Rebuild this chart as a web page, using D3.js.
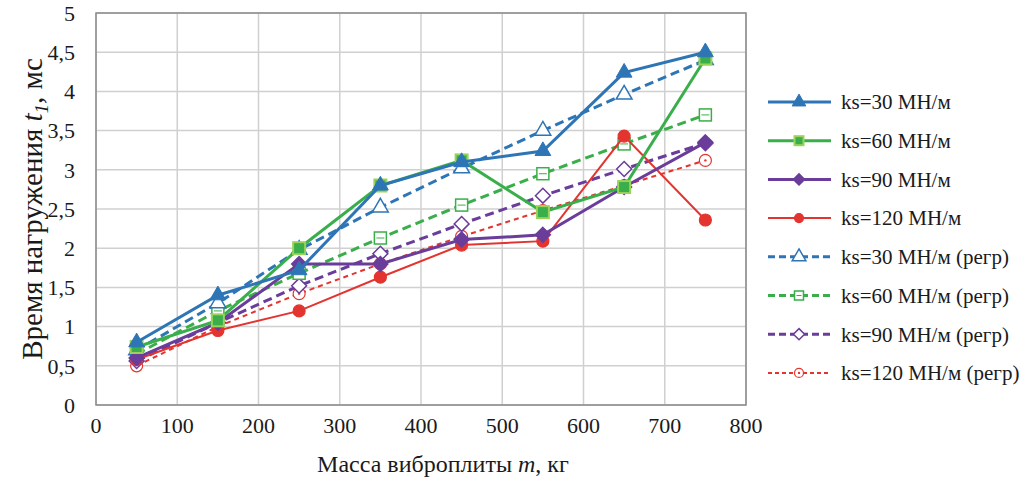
<!DOCTYPE html>
<meta charset="utf-8">
<html>
<head>
<title>Время нагружения</title>
<script src="https://d3js.org/d3.v7.min.js"></script>
<style>
  body { margin: 0; background: #fff; }
  svg text { font-family: "Liberation Serif", "DejaVu Serif", "Times New Roman", serif; fill: #1a1a1a; }
</style>
</head>
<body>
<div id="chart"></div>
<script>
// data
var masses = [50, 150, 250, 350, 450, 550, 650, 750];
var t30  = [0.80, 1.40, 1.72, 2.80, 3.10, 3.24, 4.24, 4.50];
var t60  = [0.74, 1.08, 2.00, 2.80, 3.12, 2.46, 2.78, 4.42];
var t90  = [0.60, 1.05, 1.80, 1.80, 2.11, 2.17, 2.78, 3.35];
var t120 = [0.58, 0.95, 1.20, 1.63, 2.04, 2.09, 3.43, 2.36];
var r30  = [0.70, 1.30, 1.98, 2.52, 3.02, 3.50, 3.96, 4.40];
var r60  = [0.65, 1.20, 1.68, 2.13, 2.55, 2.95, 3.33, 3.70];
var r90  = [0.56, 1.05, 1.52, 1.93, 2.31, 2.67, 3.01, 3.34];
var r120 = [0.50, 1.00, 1.42, 1.80, 2.15, 2.48, 2.80, 3.12];
var seriesNames = ["ks=30 МН/м", "ks=60 МН/м", "ks=90 МН/м", "ks=120 МН/м",
  "ks=30 МН/м (регр)", "ks=60 МН/м (регр)", "ks=90 МН/м (регр)", "ks=120 МН/м (регр)"];
var xTicks = [0, 100, 200, 300, 400, 500, 600, 700, 800];
var yTicks = [0, 0.5, 1, 1.5, 2, 2.5, 3, 3.5, 4, 4.5, 5];

var blue = "#2e75b6", green = "#3aae4a", purple = "#6a3d9a", red = "#e3342f";

var series = [
  {name: seriesNames[0], vals: t30,  color: blue,   w: 3, dash: null,  marker: "tri",  open: false},
  {name: seriesNames[1], vals: t60,  color: green,  w: 3, dash: null,  marker: "sq",   open: false},
  {name: seriesNames[2], vals: t90,  color: purple, w: 3, dash: null,  marker: "dia",  open: false},
  {name: seriesNames[3], vals: t120, color: red,    w: 2, dash: null,  marker: "circ", open: false},
  {name: seriesNames[4], vals: r30,  color: blue,   w: 3, dash: "9,5", marker: "tri",  open: true},
  {name: seriesNames[5], vals: r60,  color: green,  w: 3, dash: "9,5", marker: "sq",   open: true},
  {name: seriesNames[6], vals: r90,  color: purple, w: 3, dash: "9,5", marker: "dia",  open: true},
  {name: seriesNames[7], vals: r120, color: red,    w: 2, dash: "5,4", marker: "circ", open: true}
];

var W = 1026, H = 479;
var margin = {top: 13, right: 280, bottom: 74, left: 96};
var width = W - margin.left - margin.right,
    height = H - margin.top - margin.bottom;

var svg = d3.select("#chart").append("svg")
  .attr("width", W).attr("height", H)
  .attr("font-family", "Liberation Serif, serif");
var g = svg.append("g")
  .attr("transform", "translate(" + margin.left + "," + margin.top + ")");

var x = d3.scaleLinear().domain([0, 800]).range([0, width]);
var y = d3.scaleLinear().domain([0, 5]).range([height, 0]);

// grid
g.selectAll(".vgrid").data(xTicks).enter().append("line")
  .attr("x1", d => x(d)).attr("x2", d => x(d))
  .attr("y1", 0).attr("y2", height)
  .attr("stroke", "#d0d0d0").attr("stroke-width", 1.5);
g.selectAll(".hgrid").data(yTicks).enter().append("line")
  .attr("x1", 0).attr("x2", width)
  .attr("y1", d => y(d)).attr("y2", d => y(d))
  .attr("stroke", "#d0d0d0").attr("stroke-width", 1.5);
g.append("rect").attr("width", width).attr("height", height)
  .attr("fill", "none").attr("stroke", "#8a8a8a").attr("stroke-width", 1.5);

// tick labels
g.selectAll(".xl").data(xTicks).enter().append("text")
  .attr("x", d => x(d)).attr("y", height + 28)
  .attr("text-anchor", "middle").style("font-size", "22px")
  .text(d => d);
g.selectAll(".yl").data(yTicks).enter().append("text")
  .attr("x", -21).attr("y", d => y(d)).attr("dy", "0.35em")
  .attr("text-anchor", "end").style("font-size", "22px")
  .text(d => String(d).replace(".", ","));

// axis titles
var xt = svg.append("text")
  .attr("x", 443).attr("y", 472)
  .attr("text-anchor", "middle").style("font-size", "24px");
xt.append("tspan").text("Масса виброплиты ");
xt.append("tspan").style("font-style", "italic").text("m");
xt.append("tspan").text(", кг");

var yt = svg.append("text")
  .attr("transform", "translate(42," + (margin.top + height / 2) + ") rotate(-90)")
  .attr("text-anchor", "middle").style("font-size", "29px");
yt.append("tspan").text("Время нагружения ");
yt.append("tspan").style("font-style", "italic").text("t");
yt.append("tspan").style("font-style", "italic").style("font-size", "19px").attr("dy", 6).text("1");
yt.append("tspan").attr("dy", -6).text(", мс");

function drawMarker(sel, s, size) {
  var fill = s.open ? "#fff" : s.color;
  if (s.marker === "tri") {
    sel.append("path").attr("d", d3.symbol().type(d3.symbolTriangle).size(size * 9)())
      .attr("fill", fill).attr("stroke", s.color).attr("stroke-width", s.open ? 1.5 : 1);
  } else if (s.marker === "sq") {
    sel.append("rect").attr("x", -size / 2).attr("y", -size / 2)
      .attr("width", size).attr("height", size)
      .attr("fill", s.open ? "#fff" : s.color)
      .attr("stroke", s.open ? s.color : "#9bd35a").attr("stroke-width", s.open ? 1.5 : 2);
    if (s.open) {
      sel.append("line").attr("x1", -size / 2 + 2).attr("x2", size / 2 - 2)
        .attr("y1", 0).attr("y2", 0).attr("stroke", s.color).attr("stroke-width", 1);
    }
  } else if (s.marker === "dia") {
    var h = size * 0.62;
    sel.append("path").attr("d", "M0," + (-h) + "L" + h + ",0L0," + h + "L" + (-h) + ",0Z")
      .attr("fill", fill).attr("stroke", s.color).attr("stroke-width", 1.5);
  } else {
    sel.append("circle").attr("r", size / 2).attr("fill", fill)
      .attr("stroke", s.color).attr("stroke-width", 1.2);
    if (s.open) {
      sel.append("circle").attr("r", 1.2).attr("fill", s.color);
    }
  }
}

var line = d3.line().x((d, i) => x(masses[i])).y(d => y(d));

// regression series first, measured ones on top
series.slice().reverse().forEach(function(s) {
  var sg = g.append("g");
  sg.append("path").datum(s.vals).attr("d", line)
    .attr("fill", "none").attr("stroke", s.color).attr("stroke-width", s.w)
    .attr("stroke-dasharray", s.dash);
  s.vals.forEach(function(v, i) {
    var m = sg.append("g").attr("transform", "translate(" + x(masses[i]) + "," + y(v) + ")");
    drawMarker(m, s, 12);
  });
});

// legend
var lg = svg.append("g").attr("transform", "translate(768,102)");
series.forEach(function(s, i) {
  var row = lg.append("g").attr("transform", "translate(0," + (i * 38.7) + ")");
  row.append("line").attr("x1", 0).attr("x2", 63).attr("y1", 0).attr("y2", 0)
    .attr("stroke", s.color).attr("stroke-width", s.w)
    .attr("stroke-dasharray", s.dash ? (s.marker === "circ" ? "4,3" : "7,4") : null);
  var m = row.append("g").attr("transform", "translate(31,0)");
  drawMarker(m, s, 9);
  row.append("text").attr("x", 73).attr("y", 0).attr("dy", "0.35em")
    .style("font-size", "21px").text(s.name);
});
</script>
</body>
</html>
